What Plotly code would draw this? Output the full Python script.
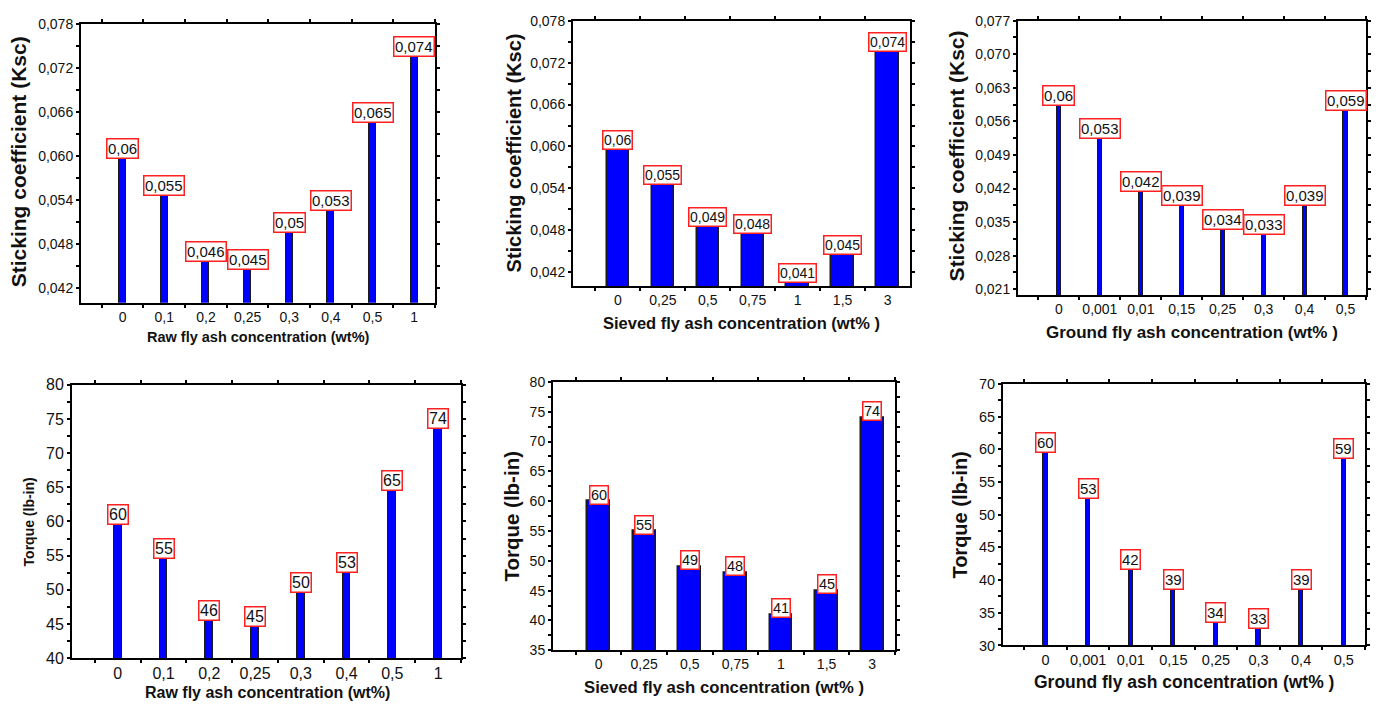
import plotly.graph_objects as go

W, H = 1379, 713
FONT = "Liberation Sans, Arial, sans-serif"
INK = "#111111"

# Fly ash concentrations (wt%) for each additive type
raw_conc = ["0", "0,1", "0,2", "0,25", "0,3", "0,4", "0,5", "1"]
sieved_conc = ["0", "0,25", "0,5", "0,75", "1", "1,5", "3"]
ground_conc = ["0", "0,001", "0,01", "0,15", "0,25", "0,3", "0,4", "0,5"]

# Sticking coefficient (Ksc)
raw_ksc = [0.060, 0.055, 0.046, 0.045, 0.050, 0.053, 0.065, 0.074]
sieved_ksc = [0.060, 0.055, 0.049, 0.048, 0.041, 0.045, 0.074]
ground_ksc = [0.060, 0.053, 0.042, 0.039, 0.034, 0.033, 0.039, 0.059]

# Torque (lb-in)
raw_torque = [60, 55, 46, 45, 50, 53, 65, 74]
sieved_torque = [60, 55, 49, 48, 41, 45, 74]
ground_torque = [60, 53, 42, 39, 34, 33, 39, 59]


def ksc_text(v):
    return f"{v:g}".replace(".", ",")


def torque_text(v):
    return f"{v:d}"


# Panel layout: plot-area box in pixels (left, right, top, bottom) and styling
panels = [
    dict(cats=raw_conc, vals=raw_ksc, fmt=ksc_text, box=(81, 435, 16, 302),
         yrange=[0.040, 0.078], tick0=0.042, dtick=0.006, tickformat=".3f",
         width=0.17, lab_size=15, tick_size=14,
         ytitle="Sticking coefficient (Ksc)", ytitle_size=21, ytitle_pos=(18, 158),
         xtitle="Raw fly ash concentration (wt%)", xtitle_size=14.5, xtitle_pos=(258, 337)),
    dict(cats=sieved_conc, vals=sieved_ksc, fmt=ksc_text, box=(573, 910, 13, 285),
         yrange=[0.040, 0.078], tick0=0.042, dtick=0.006, tickformat=".3f",
         width=0.5, lab_size=14, tick_size=14,
         ytitle="Sticking coefficient (Ksc)", ytitle_size=20, ytitle_pos=(514, 149),
         xtitle="Sieved fly ash concentration (wt% )", xtitle_size=16.5, xtitle_pos=(742, 323)),
    dict(cats=ground_conc, vals=ground_ksc, fmt=ksc_text, box=(1018, 1366, 13, 294),
         yrange=[0.0198, 0.077], tick0=0.021, dtick=0.007, tickformat=".3f",
         width=0.1, lab_size=15, tick_size=14,
         ytitle="Sticking coefficient (Ksc)", ytitle_size=21, ytitle_pos=(956, 152),
         xtitle="Ground fly ash concentration (wt% )", xtitle_size=17, xtitle_pos=(1192, 332)),
    dict(cats=raw_conc, vals=raw_torque, fmt=torque_text, box=(72, 461, 386, 666),
         yrange=[40, 80], tick0=40, dtick=5, tickformat="d",
         width=0.17, lab_size=16, tick_size=16,
         ytitle="Torque (lb-in)", ytitle_size=14, ytitle_pos=(29, 527),
         xtitle="Raw fly ash concentration (wt%)", xtitle_size=16, xtitle_pos=(267, 701)),
    dict(cats=sieved_conc, vals=sieved_torque, fmt=torque_text, box=(553, 895, 383, 658),
         yrange=[35, 80], tick0=35, dtick=5, tickformat="d",
         width=0.5, lab_size=14.5, tick_size=14,
         ytitle="Torque (lb-in)", ytitle_size=20.5, ytitle_pos=(512, 521),
         xtitle="Sieved fly ash concentration (wt% )", xtitle_size=16.7, xtitle_pos=(724, 696)),
    dict(cats=ground_conc, vals=ground_torque, fmt=torque_text, box=(1003, 1365, 385, 653),
         yrange=[30, 70], tick0=30, dtick=5, tickformat="d",
         width=0.1, lab_size=15, tick_size=14.5,
         ytitle="Torque (lb-in)", ytitle_size=20, ytitle_pos=(960, 520),
         xtitle="Ground fly ash concentration (wt% )", xtitle_size=17.5, xtitle_pos=(1184, 690)),
]

fig = go.Figure()
layout = dict(
    width=W, height=H,
    margin=dict(l=0, r=0, t=0, b=0),
    paper_bgcolor="white", plot_bgcolor="white",
    separators=", ",
    showlegend=False,
    bargap=0,
)
annotations = []
n_pan = len(panels)

for i, p in enumerate(panels, start=1):
    xa = "x" if i == 1 else f"x{i}"
    ya = "y" if i == 1 else f"y{i}"
    xkey = "xaxis" if i == 1 else f"xaxis{i}"
    ykey = "yaxis" if i == 1 else f"yaxis{i}"
    left, right, top, bottom = p["box"]
    xdom = [left / W, right / W]
    ydom = [1 - bottom / H, 1 - top / H]
    n = len(p["cats"])
    xrange = [-1, n - 0.5]
    narrow = p["width"] < 0.3

    fig.add_trace(go.Bar(
        x=p["cats"], y=p["vals"], xaxis=xa, yaxis=ya,
        width=p["width"],
        marker=dict(color="#0000ff",
                    line=dict(color="#1a1a1a", width=1 if narrow else 1.5)),
        hoverinfo="x+y",
    ))

    tickfont = dict(family=FONT, size=p["tick_size"], color=INK)
    layout[xkey] = dict(
        domain=xdom, anchor=ya, type="category", range=xrange,
        categoryorder="array", categoryarray=p["cats"], tickangle=0,
        tickson="boundaries", ticks="outside", ticklen=3, tickwidth=2,
        tickcolor="black", showline=True, linewidth=2, linecolor="black",
        mirror="allticks", showgrid=False, zeroline=False, tickfont=tickfont,
    )
    layout[ykey] = dict(
        domain=ydom, anchor=xa, range=p["yrange"],
        tick0=p["tick0"], dtick=p["dtick"], tickformat=p["tickformat"],
        ticks="outside", ticklen=3, tickwidth=2, tickcolor="black",
        minor=dict(ticks="outside", ticklen=3, tickwidth=2, tickcolor="black",
                   tick0=p["tick0"], dtick=p["dtick"] / 2),
        showline=True, linewidth=2, linecolor="black", mirror="allticks",
        showgrid=False, zeroline=False, tickfont=tickfont,
    )

    # Companion axes carrying the inward half of each tick, so ticks cross the frame
    j = i + n_pan
    layout[f"xaxis{j}"] = dict(
        overlaying=xa, anchor=ya, range=xrange, tick0=-0.5, dtick=1,
        ticks="inside", ticklen=3, tickwidth=2, tickcolor="black",
        mirror="allticks", showline=False, showticklabels=False,
        showgrid=False, zeroline=False,
    )
    layout[f"yaxis{j}"] = dict(
        overlaying=ya, anchor=xa, range=p["yrange"],
        tick0=p["tick0"], dtick=p["dtick"],
        ticks="inside", ticklen=3, tickwidth=2, tickcolor="black",
        minor=dict(ticks="inside", ticklen=3, tickwidth=2, tickcolor="black",
                   tick0=p["tick0"], dtick=p["dtick"] / 2),
        mirror="allticks", showline=False, showticklabels=False,
        showgrid=False, zeroline=False,
    )

    # Boxed value labels on top of each bar (x given as category index)
    for k, v in enumerate(p["vals"]):
        annotations.append(dict(
            x=k, y=v, xref=xa, yref=ya, text=p["fmt"](v), showarrow=False,
            xanchor="center", yanchor="bottom", yshift=-3.5,
            font=dict(family=FONT, size=p["lab_size"], color=INK),
            bgcolor="white", bordercolor="#ff2020", borderwidth=1.5, borderpad=0.5,
        ))

    # Axis titles
    cx, cy = p["ytitle_pos"]
    annotations.append(dict(
        x=cx / W, y=1 - cy / H, xref="paper", yref="paper",
        text=f"<b>{p['ytitle']}</b>", textangle=-90, showarrow=False,
        xanchor="center", yanchor="middle",
        font=dict(family=FONT, size=p["ytitle_size"], color=INK),
    ))
    cx, cy = p["xtitle_pos"]
    annotations.append(dict(
        x=cx / W, y=1 - cy / H, xref="paper", yref="paper",
        text=f"<b>{p['xtitle']}</b>", showarrow=False,
        xanchor="center", yanchor="middle",
        font=dict(family=FONT, size=p["xtitle_size"], color=INK),
    ))

layout["annotations"] = annotations
fig.update_layout(**layout)
fig.write_html("out.html")
